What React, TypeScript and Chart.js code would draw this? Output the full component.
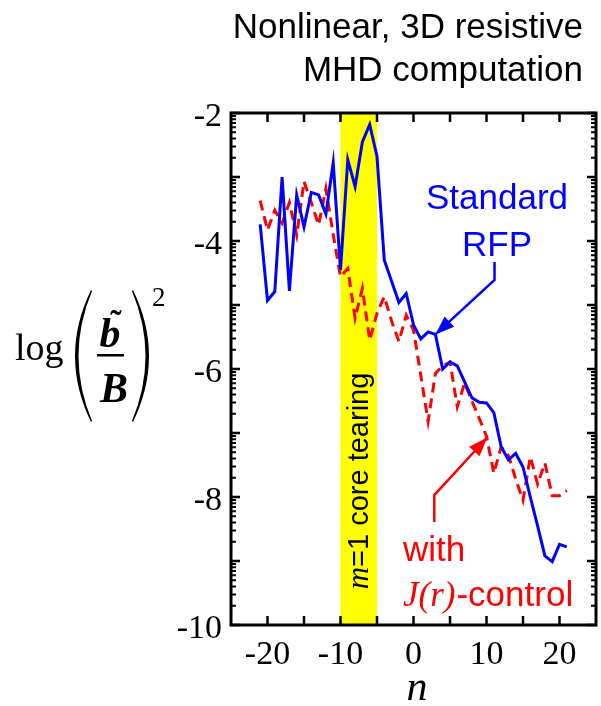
import React, { useEffect, useRef } from "react";
import { Chart, registerables } from "chart.js";

Chart.register(...registerables);

// ---------- data ----------
const modeNumbers = [
  -21, -20, -19, -18, -17, -16, -15, -14, -13, -12, -11, -10, -9, -8, -7, -6, -5, -4, -3, -2, -1,
  0, 1, 2, 3, 4, 5, 6, 7, 8, 9, 10, 11, 12, 13, 14, 15, 16, 17, 18, 19, 20, 21,
];

const standardRFP = [
  -3.74, -4.93, -4.79, -3.0, -4.78, -3.28, -3.78, -3.24, -3.28, -3.58, -2.78, -4.45, -2.73, -3.15,
  -2.45, -2.18, -2.68, -4.3, -4.63, -4.96, -4.82, -5.31, -5.53, -5.42, -5.46, -6.0, -5.89, -5.95,
  -6.2, -6.45, -6.52, -6.53, -6.68, -7.21, -7.42, -7.32, -7.53, -8.0, -8.45, -8.92, -9.01, -8.74,
  -8.78,
];

const jrControl = [
  -3.37, -3.83, -3.52, -3.72, -3.4, -3.91, -3.07, -3.4, -3.75, -3.18, -3.9, -4.56, -4.43, -5.21,
  -4.74, -5.55, -5.13, -4.87, -5.25, -5.57, -5.16, -5.39, -6.1, -6.82, -6.07, -5.95, -5.89, -6.59,
  -6.22, -6.5, -6.77, -7.05, -7.63, -7.22, -7.35, -7.72, -8.05, -7.37, -7.8, -7.47, -7.98, -7.98,
  -7.9,
];

const xTickValues = [-20, -10, 0, 10, 20];
const yTickValues = [-2, -4, -6, -8, -10];
const coreTearingBand = [-10, -5];

// annotation anchors (data coordinates)
const blueArrowPath = [
  [11.1, -4.33],
  [11.1, -4.61],
  [3.0, -5.46],
];
const redArrowPath = [
  [2.85, -8.39],
  [2.85, -7.97],
  [10.1, -7.07],
];

const SANS = '"Liberation Sans", Arial, Helvetica, sans-serif';
const SERIF = '"Liberation Serif", "Times New Roman", Times, serif';

function drawArrow(ctx: CanvasRenderingContext2D, pts: number[][], color: string) {
  ctx.save();
  ctx.strokeStyle = color;
  ctx.fillStyle = color;
  ctx.lineWidth = 2.5;
  ctx.beginPath();
  ctx.moveTo(pts[0][0], pts[0][1]);
  for (let i = 1; i < pts.length; i++) ctx.lineTo(pts[i][0], pts[i][1]);
  ctx.stroke();
  const [tx, ty] = pts[pts.length - 1];
  const [fx, fy] = pts[pts.length - 2];
  const ang = Math.atan2(ty - fy, tx - fx);
  const len = 19;
  const half = 7;
  const bx = tx - len * Math.cos(ang);
  const by = ty - len * Math.sin(ang);
  ctx.beginPath();
  ctx.moveTo(tx, ty);
  ctx.lineTo(bx + half * Math.sin(ang), by - half * Math.cos(ang));
  ctx.lineTo(bx - half * Math.sin(ang), by + half * Math.cos(ang));
  ctx.closePath();
  ctx.fill();
  ctx.restore();
}

// large thin delimiter (like TeX's extensible parentheses)
function drawParen(ctx: CanvasRenderingContext2D, xEnd: number, top: number, bottom: number, outerMid: number, innerMid: number) {
  const mid = (top + bottom) / 2;
  const cOuter = 2 * outerMid - xEnd;
  const cInner = 2 * innerMid - xEnd;
  const d = innerMid > outerMid ? 1 : -1;
  ctx.beginPath();
  ctx.moveTo(xEnd, top);
  ctx.quadraticCurveTo(cOuter, mid, xEnd, bottom);
  ctx.lineTo(xEnd + d, bottom - 1);
  ctx.quadraticCurveTo(cInner, mid, xEnd + d, top + 1);
  ctx.closePath();
  ctx.fill();
}

const decorPlugin = {
  id: "decor",
  beforeDatasetsDraw(chart: any) {
    const { ctx, chartArea: a, scales } = chart;
    const x = scales.x;
    const y = scales.y;
    ctx.save();
    const x0 = x.getPixelForValue(coreTearingBand[0]);
    const x1 = x.getPixelForValue(coreTearingBand[1]);
    ctx.fillStyle = "#ffff00";
    ctx.fillRect(x0, a.top, x1 - x0, a.bottom - a.top);

    // rotated band label
    ctx.translate((x0 + x1) / 2 + 9, y.getPixelForValue(-7.75));
    ctx.rotate(-Math.PI / 2);
    ctx.fillStyle = "#000";
    ctx.textBaseline = "alphabetic";
    ctx.textAlign = "left";
    const fItal = `italic 31px ${SERIF}`;
    const fSans = `29px ${SANS}`;
    ctx.font = fItal;
    const w1 = ctx.measureText("m").width;
    ctx.font = fSans;
    const w2 = ctx.measureText("=1 core tearing").width;
    const start = -(w1 + w2) / 2;
    ctx.font = fItal;
    ctx.fillText("m", start, 0);
    ctx.font = fSans;
    ctx.fillText("=1 core tearing", start + w1, 0);
    ctx.restore();
  },
  afterDraw(chart: any) {
    const { ctx, chartArea: a, scales } = chart;
    const x = scales.x;
    const y = scales.y;
    ctx.save();

    // frame
    ctx.strokeStyle = "#000";
    ctx.lineWidth = 3;
    ctx.strokeRect(a.left, a.top, a.right - a.left, a.bottom - a.top);

    // x ticks (every 5, inward on bottom & top)
    ctx.lineWidth = 2.5;
    ctx.beginPath();
    for (let v = -20; v <= 20; v += 5) {
      const p = x.getPixelForValue(v);
      ctx.moveTo(p, a.bottom);
      ctx.lineTo(p, a.bottom - 9);
      ctx.moveTo(p, a.top);
      ctx.lineTo(p, a.top + 9);
    }
    // y major ticks
    for (let v = -10; v <= -2; v += 1) {
      const p = y.getPixelForValue(v);
      ctx.moveTo(a.left, p);
      ctx.lineTo(a.left + 9, p);
      ctx.moveTo(a.right, p);
      ctx.lineTo(a.right - 9, p);
    }
    ctx.stroke();
    // y minor (log-decade) ticks
    ctx.lineWidth = 2;
    ctx.beginPath();
    for (let k = -10; k < -2; k++) {
      for (let m = 2; m <= 9; m++) {
        const p = y.getPixelForValue(k + Math.log10(m));
        ctx.moveTo(a.left, p);
        ctx.lineTo(a.left + 5, p);
        ctx.moveTo(a.right, p);
        ctx.lineTo(a.right - 5, p);
      }
    }
    ctx.stroke();

    // arrows
    const toPx = (pts: number[][]) => pts.map(([n, v]) => [x.getPixelForValue(n), y.getPixelForValue(v)]);
    drawArrow(ctx, toPx(blueArrowPath), "#0000ff");
    drawArrow(ctx, toPx(redArrowPath), "#ff0000");

    // annotations
    ctx.textBaseline = "alphabetic";
    ctx.fillStyle = "#0000ff";
    ctx.font = `35px ${SANS}`;
    ctx.textAlign = "center";
    ctx.fillText("Standard", 497, 209);
    ctx.fillText("RFP", 497, 256);

    ctx.fillStyle = "#ff0000";
    ctx.textAlign = "left";
    ctx.fillText("with", 403, 561);
    ctx.font = `italic 35px ${SERIF}`;
    ctx.fillText("J(r)", 403, 606);
    const wj = ctx.measureText("J(r)").width;
    ctx.font = `35px ${SANS}`;
    ctx.fillText("-control", 403 + wj + 1, 606);

    // title
    ctx.fillStyle = "#000";
    ctx.textAlign = "right";
    ctx.font = `35px ${SANS}`;
    ctx.fillText("Nonlinear, 3D resistive", 583, 38);
    ctx.fillText("MHD computation", 583, 81);

    // x axis title
    ctx.textAlign = "center";
    ctx.font = `italic 42px ${SERIF}`;
    ctx.fillText("n", 417, 700);

    // y axis title: log (b~/B)^2
    ctx.textAlign = "left";
    ctx.font = `38px ${SERIF}`;
    ctx.fillText("log", 15, 360);
    drawParen(ctx, 91, 290, 422, 75, 78);
    drawParen(ctx, 133, 290, 422, 149, 146);
    ctx.textAlign = "center";
    ctx.font = `bold italic 42px ${SERIF}`;
    ctx.fillText("b", 110, 347);
    ctx.font = `bold 34px ${SERIF}`;
    ctx.fillText("\u02DC", 116, 334);
    ctx.fillRect(97, 354, 27, 2.5);
    ctx.font = `bold italic 42px ${SERIF}`;
    ctx.fillText("B", 114, 402);
    ctx.textAlign = "left";
    ctx.font = `27px ${SERIF}`;
    ctx.fillText("2", 152, 306);

    ctx.restore();
  },
};

export default function App() {
  const ref = useRef<HTMLCanvasElement>(null);

  useEffect(() => {
    if (!ref.current) return;
    const chart = new Chart(ref.current, {
      type: "line",
      data: {
        datasets: [
          {
            label: "Standard RFP",
            data: modeNumbers.map((n, i) => ({ x: n, y: standardRFP[i] })),
            borderColor: "#0000ff",
            borderWidth: 3,
            pointRadius: 0,
            tension: 0,
            fill: false,
          },
          {
            label: "with J(r)-control",
            data: modeNumbers.map((n, i) => ({ x: n, y: jrControl[i] })),
            borderColor: "#ff0000",
            borderWidth: 3,
            borderDash: [10, 6],
            pointRadius: 0,
            tension: 0,
            fill: false,
          },
        ],
      },
      options: {
        responsive: false,
        animation: false,
        devicePixelRatio: 1,
        layout: { padding: { top: 113, right: 5, left: 0, bottom: 0 } },
        plugins: { legend: { display: false }, tooltip: { enabled: false } },
        scales: {
          x: {
            type: "linear",
            min: -25,
            max: 25,
            grid: { display: false, drawTicks: false },
            border: { display: false },
            ticks: {
              autoSkip: false,
              maxRotation: 0,
              padding: 10,
              color: "#000",
              font: { family: SERIF, size: 34 },
            },
            afterBuildTicks: (s: any) => {
              s.ticks = xTickValues.map((v) => ({ value: v }));
            },
            afterFit: (s: any) => {
              s.height = 81;
            },
          },
          y: {
            type: "linear",
            min: -10,
            max: -2,
            grid: { display: false, drawTicks: false },
            border: { display: false },
            ticks: {
              autoSkip: false,
              padding: 9,
              labelOffset: 4,
              color: "#000",
              font: { family: SERIF, size: 34 },
            },
            afterBuildTicks: (s: any) => {
              s.ticks = yTickValues.map((v) => ({ value: v }));
            },
            afterFit: (s: any) => {
              s.width = 231;
            },
          },
        },
      },
      plugins: [decorPlugin],
    } as any);
    return () => chart.destroy();
  }, []);

  return (
    <div style={{ position: "absolute", left: 0, top: 0, width: 601, height: 706 }}>
      <canvas ref={ref} width={601} height={706} style={{ display: "block", width: 601, height: 706 }} />
    </div>
  );
}
